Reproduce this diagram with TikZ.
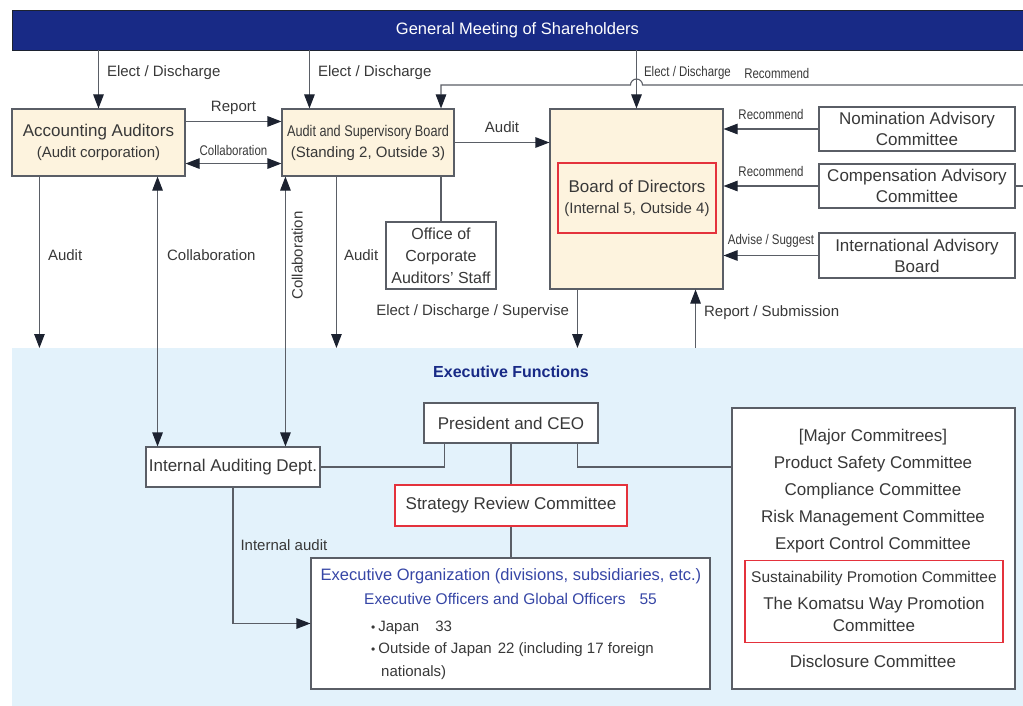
\documentclass[tikz,border=0pt]{standalone}
\usepackage{fontspec}
\setmainfont{Liberation Sans}
\newfontfamily\condfont[FakeStretch=0.82]{Liberation Sans}
\usetikzlibrary{arrows.meta,calc}

\definecolor{navy}{HTML}{182A86}
\definecolor{txtgray}{HTML}{383838}
\definecolor{linegray}{HTML}{5A5E66}
\definecolor{tipdark}{HTML}{1C2230}
\definecolor{cream}{HTML}{FDF3DE}
\definecolor{skyblue}{HTML}{E3F2FB}
\definecolor{boxred}{HTML}{E4323C}
\definecolor{orgblue}{HTML}{3646A6}

\tikzset{
  box/.style={draw=linegray, line width=1.1pt, fill=white, inner sep=0pt, align=center,
    text=txtgray, font=\fontsize{17}{21}\selectfont},
  cbox/.style={box, fill=cream},
  rbox/.style={box, draw=boxred, fill=none},
  lbl/.style={inner sep=0pt, text=txtgray, font=\fontsize{15}{18}\selectfont},
  slbl/.style={inner sep=0pt, text=txtgray, font=\condfont\fontsize{14}{16}\selectfont},
  ln/.style={draw=linegray, line width=1.1pt},
  arr/.style={ln, -{Triangle[length=14pt,width=10.5pt,color=tipdark,fill=tipdark]}},
  darr/.style={ln, {Triangle[length=14pt,width=10.5pt,color=tipdark,fill=tipdark]}-{Triangle[length=14pt,width=10.5pt,color=tipdark,fill=tipdark]}},
}
\newcommand{\blt}{{\fontsize{12}{12}\selectfont\textbullet}\hspace{3pt}}

\begin{document}
\begin{tikzpicture}[x=1pt, y=-1pt]
  \useasboundingbox (0,0) rectangle (1023,706);
  % executive area and shareholders band
  \node[fill=skyblue, minimum width=1011pt, minimum height=358pt, inner sep=0pt, anchor=north west] (execbg) at (12,348) {};
  \node[fill=navy, draw=tipdark, line width=0.8pt, minimum width=1011pt, minimum height=40pt, inner sep=0pt,
    text=white, font=\fontsize{16.5}{20}\selectfont] (gms) at (517.5,30) {General Meeting of Shareholders};

  % upper boxes
  \node[cbox, minimum width=173pt, minimum height=67pt] (acc) at (98.5,142.5)
    {Accounting Auditors\\{\fontsize{15}{21}\selectfont (Audit corporation)}};
  \node[cbox, minimum width=172pt, minimum height=67pt] (asb) at (368,142.5)
    {{\condfont\fontsize{15.5}{21}\selectfont Audit and Supervisory Board}\\{\fontsize{15}{21}\selectfont (Standing 2, Outside 3)}};
  \node[cbox, minimum width=173pt, minimum height=180pt] (bod) at (636.5,199) {};
  \node[rbox, minimum width=158pt, minimum height=70pt] (bodin) at (637,198)
    {Board of Directors\\{\fontsize{15}{21}\selectfont (Internal 5, Outside 4)}};
  \node[box, minimum width=196pt, minimum height=44pt] (nom) at (917,129) {Nomination Advisory\\Committee};
  \node[box, minimum width=196pt, minimum height=44pt] (comp) at (917,186) {Compensation Advisory\\Committee};
  \node[box, minimum width=196pt, minimum height=45pt] (iab) at (917,255.5) {International Advisory\\Board};
  \node[box, minimum width=110pt, minimum height=67pt, font=\fontsize{16}{22}\selectfont] (staff) at (441,255.5)
    {Office of\\Corporate\\Auditors' Staff};

  % lower boxes
  \node[inner sep=0pt, text=navy, font=\bfseries\fontsize{16}{20}\selectfont] (exectitle) at (511,372) {Executive Functions};
  \node[box, minimum width=174pt, minimum height=40pt] (ceo) at (511,423) {President and CEO};
  \node[box, minimum width=174pt, minimum height=40pt] (iad) at (233,467) {Internal Auditing Dept.};
  \node[box, draw=boxred, minimum width=232pt, minimum height=41pt] (src) at (511,505.5) {Strategy Review Committee};
  \node[box, minimum width=399pt, minimum height=131pt] (exo) at (510.5,623.5) {};
  \node[inner sep=0pt, text=orgblue, font=\fontsize{16.5}{20}\selectfont] (exohead) at (511,576)
    {Executive Organization (divisions, subsidiaries, etc.)};
  \node[inner sep=0pt, text=orgblue, font=\fontsize{15.5}{20}\selectfont] (exooff) at (510.5,599)
    {Executive Officers and Global Officers\hspace{14pt}55};
  \node[lbl, anchor=west] (exojp) at (371,628) {\blt Japan\hspace{16pt}33};
  \node[lbl, anchor=west] (exoos) at (371,650) {\blt Outside of Japan\hspace{6pt}22 (including 17 foreign};
  \node[lbl, anchor=west] (exonat) at (381,673) {nationals)};
  \node[box, minimum width=283pt, minimum height=281pt] (cmt) at (873.5,548.5) {};
  \node[inner sep=0pt, align=center, text=txtgray, font=\fontsize{17}{27}\selectfont] (cmtlist) at (873,491)
    {[Major Commitrees]\\Product Safety Committee\\Compliance Committee\\Risk Management Committee\\Export Control Committee};
  \node[rbox, minimum width=258pt, minimum height=82pt, font=\fontsize{17}{22}\selectfont] (cmtred) at (874,601.5)
    {{\fontsize{15.5}{22}\selectfont Sustainability Promotion Committee}\\[5pt]The Komatsu Way Promotion\\Committee};
  \node[inner sep=0pt, text=txtgray, font=\fontsize{17}{20}\selectfont] (cmtdisc) at (873,661) {Disclosure Committee};

  % guide points
  \coordinate (recR) at (1023,85);
  \coordinate (asbin) at ($(asb.north west)+(28,0)$);
  \coordinate (accaud) at ($(acc.south west)+(28,0)$);
  \coordinate (accol) at ($(acc.south east)+(-28,0)$);
  \coordinate (ascol) at ($(asb.south west)+(4,0)$);
  \coordinate (asbaud) at ($(asb.south west)+(55,0)$);
  \coordinate (boddn) at ($(bod.south west)+(28,0)$);
  \coordinate (bodup) at ($(bod.south east)+(-28,0)$);

  % elect / discharge from the meeting
  \draw[arr] (gms.south -| acc.north) -- (acc.north) node[lbl, pos=0.39, right=8pt] {Elect / Discharge};
  \draw[arr] (gms.south -| asbin) -- (asbin) node[lbl, pos=0.39, right=8pt] {Elect / Discharge};
  \draw[arr] (gms.south -| bod.north) -- (bod.north) node[slbl, pos=0.39, right=7pt] {Elect / Discharge};
  % recommend line with hop
  \draw[arr] (recR) -- node[slbl, pos=0.734, anchor=west, yshift=12pt] (reclbl) {Recommend}
    ($(recR -| bod.north)+(6,0)$) arc[start angle=0, end angle=180, radius=6pt]
    -- (recR -| staff.north) -- (asb.north -| staff.north);

  % between auditors and board
  \draw[arr] ($(acc.north east)+(0,13)$) -- ($(asb.north west)+(0,13)$) node[lbl, midway, yshift=14pt] {Report};
  \draw[darr] ($(acc.south east)+(0,-13)$) -- ($(asb.south west)+(0,-13)$) node[slbl, midway, yshift=13pt] {Collaboration};
  \draw[arr] (asb.east) -- (asb.east -| bod.west) node[lbl, midway, yshift=15pt] {Audit};
  \draw[ln] (asb.south -| staff.north) -- (staff.north);

  % advisory bodies
  \draw[arr] (nom.west) -- (nom.west -| bod.east) node[slbl, midway, yshift=15pt] {Recommend};
  \draw[arr] (comp.west) -- (comp.west -| bod.east) node[slbl, midway, yshift=15pt] {Recommend};
  \draw[arr] (iab.west) -- (iab.west -| bod.east) node[slbl, midway, yshift=15pt] {Advise / Suggest};
  \draw[ln] (comp.east) -- (comp.east -| recR);

  % down to executive functions
  \draw[arr] (accaud) -- (accaud |- execbg.north) node[lbl, pos=0.46, right=8pt] {Audit};
  \draw[darr] (accol) -- (accol |- iad.north) node[lbl, pos=0.29, right=9pt] {Collaboration};
  \draw[darr] (ascol) -- (ascol |- iad.north);
  \node[lbl, rotate=90, anchor=north] (collab2) at ($(ascol)+(6,79)$) {Collaboration};
  \draw[arr] (asbaud) -- (asbaud |- execbg.north) node[lbl, pos=0.46, right=7pt] {Audit};
  \draw[arr] (boddn) -- (boddn |- execbg.north) node[lbl, pos=0.38, left=8pt] {Elect / Discharge / Supervise};
  \draw[arr] (bodup |- execbg.north) -- (bodup) node[lbl, pos=0.61, right=8pt] {Report / Submission};

  % executive lines
  \draw[ln] (ceo.south) -- (src.north);
  \draw[ln] (src.south) -- (src.south |- exo.north);
  \draw[ln] (iad.east) -| ($(ceo.south west)+(21,0)$);
  \draw[ln] ($(ceo.south west)+(154,0)$) |- (cmt.west |- iad.east);
  \draw[arr] (iad.south) |- (exo.west) node[lbl, pos=0.21, right=7pt] {Internal audit};
\end{tikzpicture}
\end{document}
